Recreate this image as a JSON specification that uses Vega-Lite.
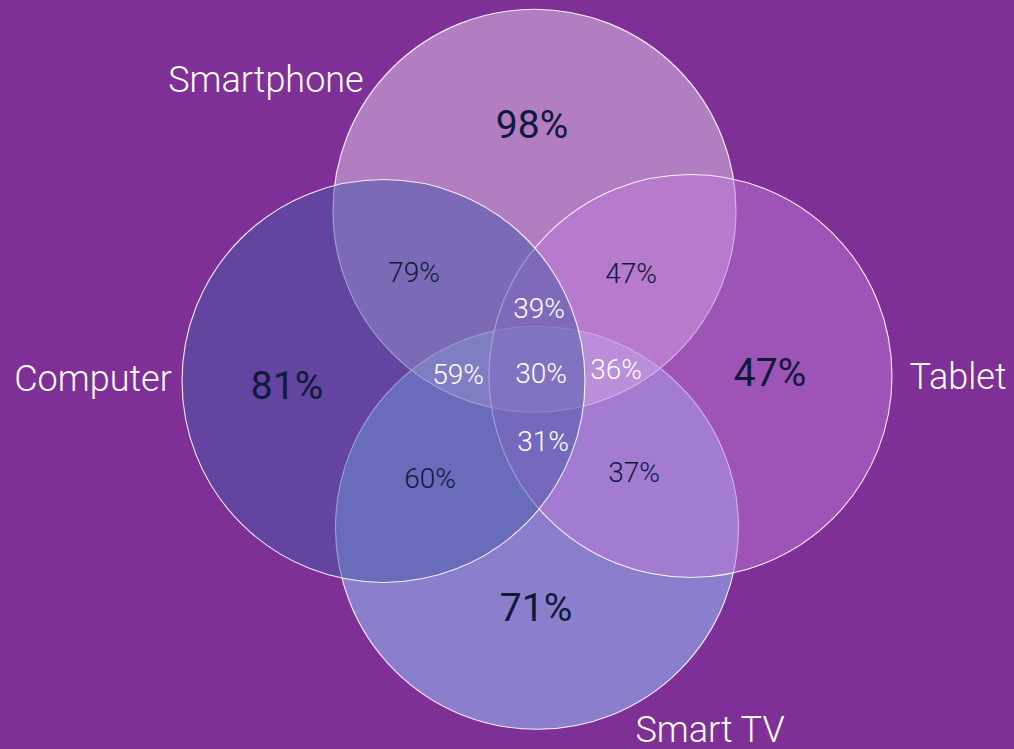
{
  "$schema": "https://vega.github.io/schema/vega-lite/v6.json",
  "width": 1014,
  "height": 749,
  "autosize": {"type": "fit", "contains": "padding"},
  "padding": 0,
  "background": "#7F3096",
  "config": {"view": {"stroke": null}},
  "datasets": {
    "circles": [
      {"set": "Smart TV", "cx": 537, "cy": 528.5},
      {"set": "Smartphone", "cx": 534.5, "cy": 211},
      {"set": "Tablet", "cx": 690.5, "cy": 376.5},
      {"set": "Computer", "cx": 383.5, "cy": 381.5}
    ],
    "labels": [
      {"text": "Smartphone", "x": 266, "y": 92, "kind": "name"},
      {"text": "Computer", "x": 93, "y": 392, "kind": "name"},
      {"text": "Tablet", "x": 958, "y": 390, "kind": "name"},
      {"text": "Smart TV", "x": 710, "y": 743, "kind": "name"},
      {"text": "98%", "x": 532, "y": 138, "kind": "big"},
      {"text": "81%", "x": 287, "y": 400, "kind": "big"},
      {"text": "47%", "x": 770, "y": 387, "kind": "big"},
      {"text": "71%", "x": 536, "y": 622, "kind": "big"},
      {"text": "79%", "x": 414, "y": 282, "kind": "dark"},
      {"text": "47%", "x": 631, "y": 283, "kind": "dark"},
      {"text": "60%", "x": 430, "y": 489, "kind": "dark"},
      {"text": "37%", "x": 634, "y": 483, "kind": "dark"},
      {"text": "39%", "x": 539, "y": 318, "kind": "light"},
      {"text": "59%", "x": 458, "y": 385, "kind": "light"},
      {"text": "30%", "x": 541, "y": 384, "kind": "light"},
      {"text": "36%", "x": 616, "y": 380, "kind": "light"},
      {"text": "31%", "x": 543, "y": 452, "kind": "light"}
    ]
  },
  "layer": [
    {
      "data": {"name": "circles"},
      "mark": {"type": "point", "shape": "circle", "filled": true, "opacity": 1, "size": 162409, "stroke": "white", "strokeWidth": 1.1, "strokeOpacity": 0.9},
      "encoding": {
        "x": {"field": "cx", "type": "quantitative", "scale": {"domain": [0, 1014]}, "axis": null},
        "y": {"field": "cy", "type": "quantitative", "scale": {"domain": [0, 749], "reverse": true}, "axis": null},
        "color": {"field": "set", "type": "nominal", "scale": {"domain": ["Smart TV", "Smartphone", "Tablet", "Computer"], "range": ["#8B7ECC", "#E7CAEE", "#BB78D6", "#4758AA"]}, "legend": null},
        "fillOpacity": {"condition": {"test": "datum.set === 'Smart TV'", "value": 1}, "value": 0.5}
      }
    },
    {
      "data": {"name": "labels"},
      "transform": [{"filter": "datum.kind === 'name'"}],
      "mark": {"type": "text", "font": "Roboto", "fontWeight": 300, "fontSize": 36, "color": "white", "align": "center", "baseline": "alphabetic"},
      "encoding": {
        "x": {"field": "x", "type": "quantitative", "scale": {"domain": [0, 1014]}, "axis": null},
        "y": {"field": "y", "type": "quantitative", "scale": {"domain": [0, 749], "reverse": true}, "axis": null},
        "text": {"field": "text"}
      }
    },
    {
      "data": {"name": "labels"},
      "transform": [{"filter": "datum.kind === 'big'"}],
      "mark": {"type": "text", "font": "Roboto", "fontWeight": 400, "fontSize": 39, "color": "#0E1A3A", "align": "center", "baseline": "alphabetic"},
      "encoding": {
        "x": {"field": "x", "type": "quantitative", "scale": {"domain": [0, 1014]}, "axis": null},
        "y": {"field": "y", "type": "quantitative", "scale": {"domain": [0, 749], "reverse": true}, "axis": null},
        "text": {"field": "text"}
      }
    },
    {
      "data": {"name": "labels"},
      "transform": [{"filter": "datum.kind === 'dark'"}],
      "mark": {"type": "text", "font": "Roboto", "fontWeight": 300, "fontSize": 28, "color": "#0E1A3A", "align": "center", "baseline": "alphabetic"},
      "encoding": {
        "x": {"field": "x", "type": "quantitative", "scale": {"domain": [0, 1014]}, "axis": null},
        "y": {"field": "y", "type": "quantitative", "scale": {"domain": [0, 749], "reverse": true}, "axis": null},
        "text": {"field": "text"}
      }
    },
    {
      "data": {"name": "labels"},
      "transform": [{"filter": "datum.kind === 'light'"}],
      "mark": {"type": "text", "font": "Roboto", "fontWeight": 300, "fontSize": 28, "color": "white", "align": "center", "baseline": "alphabetic"},
      "encoding": {
        "x": {"field": "x", "type": "quantitative", "scale": {"domain": [0, 1014]}, "axis": null},
        "y": {"field": "y", "type": "quantitative", "scale": {"domain": [0, 749], "reverse": true}, "axis": null},
        "text": {"field": "text"}
      }
    }
  ]
}
